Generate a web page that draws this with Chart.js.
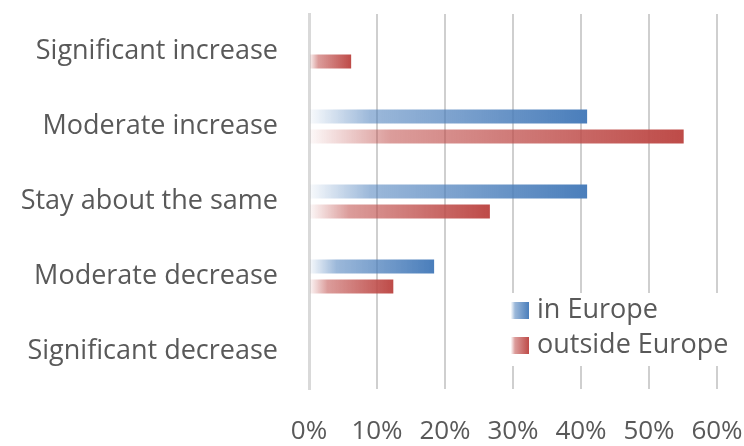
<!DOCTYPE html>
<html>
<head>
<meta charset="utf-8">
<script src="https://cdn.jsdelivr.net/npm/chart.js@4/dist/chart.umd.min.js"></script>
<style>
  html, body { margin: 0; padding: 0; background: #fff; }
  #wrap { width: 744px; height: 446px; position: relative; }
</style>
</head>
<body>
<div id="wrap"><canvas id="c" width="744" height="446"></canvas></div>
<script>
const categories = ["Significant increase", "Moderate increase", "Stay about the same", "Moderate decrease", "Significant decrease"];
const inEurope = [0, 0.409, 0.409, 0.184, 0];
const outsideEurope = [0.062, 0.551, 0.266, 0.124, 0];
const seriesNames = ["in Europe", "outside Europe"];
const tickValues = [0, 0.1, 0.2, 0.3, 0.4, 0.5, 0.6];

const FONT = "'Open Sans', sans-serif";
const FSIZE = 27;
const TSIZE = 26;
const BLUE = [74, 126, 187];
const RED = [190, 75, 72];

function rgba(c, a) { return `rgba(${c[0]},${c[1]},${c[2]},${a})`; }
function makeGrad(ctx2d, x0, x1, c) {
  const g = ctx2d.createLinearGradient(x0, 0, x1, 0);
  g.addColorStop(0, rgba(c, 0.03));
  g.addColorStop(0.22, rgba(c, 0.55));
  g.addColorStop(1, rgba(c, 1));
  return g;
}
function barFill(c) {
  return (ctx) => {
    const chart = ctx.chart;
    if (!chart.chartArea || ctx.type !== 'data') return rgba(c, 1);
    const xs = chart.scales.x;
    const x0 = xs.getPixelForValue(0);
    const x1 = xs.getPixelForValue(ctx.raw);
    if (x1 - x0 < 1) return rgba(c, 1);
    return makeGrad(chart.ctx, x0, x1, c);
  };
}

const legendPlugin = {
  id: 'customLegend',
  afterDraw(chart) {
    const ctx = chart.ctx;
    ctx.save();
    ctx.fillStyle = '#ffffff';
    ctx.fillRect(505, 293, 239, 73);
    const items = [[seriesNames[0], BLUE, 302], [seriesNames[1], RED, 337]];
    ctx.font = `${FSIZE}px ${FONT}`;
    ctx.textBaseline = 'middle';
    ctx.textAlign = 'left';
    items.forEach(([name, col, y]) => {
      ctx.fillStyle = makeGrad(ctx, 511, 529, col);
      ctx.fillRect(511, y, 18, 17);
      ctx.fillStyle = '#595959';
      ctx.fillText(name, 537, y + 8.5);
    });
    ctx.restore();
  }
};

function zeroPad(s) { s.paddingTop = 0; s.paddingBottom = 0; s.paddingLeft = 0; s.paddingRight = 0; }

new Chart(document.getElementById('c'), {
  type: 'bar',
  data: {
    labels: categories,
    datasets: [
      { label: seriesNames[0], data: inEurope, backgroundColor: barFill(BLUE), categoryPercentage: 0.533, barPercentage: 0.7 },
      { label: seriesNames[1], data: outsideEurope, backgroundColor: barFill(RED), categoryPercentage: 0.533, barPercentage: 0.7 }
    ]
  },
  options: {
    indexAxis: 'y',
    responsive: false,
    animation: false,
    layout: { padding: { top: 14, right: 27, bottom: 0, left: 0 } },
    plugins: { legend: { display: false }, tooltip: { enabled: false } },
    scales: {
      x: {
        min: 0, max: 0.6,
        afterBuildTicks: (s) => { s.ticks = tickValues.map(v => ({ value: v })); },
        afterFit: (s) => { s.height = 57; zeroPad(s); },
        grid: { color: '#cfcfcf', lineWidth: 2, drawTicks: false },
        border: { display: false },
        ticks: {
          color: '#595959', font: { family: FONT, size: TSIZE }, padding: 27,
          callback: (v) => Math.round(v * 100) + '%'
        }
      },
      y: {
        afterFit: (s) => { s.width = 309; zeroPad(s); },
        grid: { display: false, drawTicks: false },
        border: { display: true, color: '#d9d9d9', width: 3 },
        ticks: { color: '#595959', font: { family: FONT, size: FSIZE }, padding: 31 }
      }
    }
  },
  plugins: [legendPlugin]
});
</script>
</body>
</html>
